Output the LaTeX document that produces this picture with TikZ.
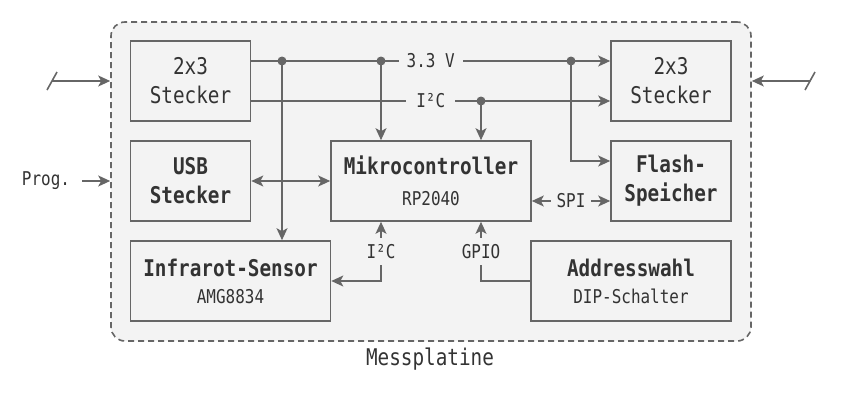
\documentclass[tikz,border=0pt]{standalone}
\usepackage{fontspec}
\setmainfont{DejaVu Sans Mono}[FakeStretch=0.84]
\usetikzlibrary{arrows.meta}
\definecolor{lc}{HTML}{666666}
\definecolor{bg}{HTML}{F3F3F3}
\definecolor{tc}{HTML}{333333}
\newcommand\sublabel[1]{{\fontsize{19}{19}\selectfont\mdseries #1}}
\begin{document}
\begin{tikzpicture}[x=1pt,y=-1pt,
  box/.style={draw=lc, fill=bg, line width=1.6pt, inner sep=0pt, align=center, text=tc,
    font=\fontsize{23}{29}\selectfont, minimum height=80pt},
  hbox/.style={box, font=\fontsize{23}{27}\selectfont\bfseries},
  conn/.style={draw=lc, line width=1.6pt, -{Stealth[length=12pt,width=11pt,inset=3pt]}},
  conn2/.style={draw=lc, line width=1.6pt, {Stealth[length=12pt,width=11pt,inset=3pt]}-{Stealth[length=12pt,width=11pt,inset=3pt]}},
  lbl/.style={fill=bg, text=tc, font=\fontsize{19}{19}\selectfont, inner sep=4pt},
  plain/.style={text=tc, font=\fontsize{19}{19}\selectfont, inner sep=0pt},
  dot/.style={circle, fill=lc, inner sep=0pt, minimum size=9pt},
  wire/.style={draw=lc, line width=1.6pt}]
\useasboundingbox (0,0) rectangle (844,402);
\node[draw=lc, fill=bg, dash pattern=on 6pt off 4pt, rounded corners=14pt, line width=1.6pt,
  minimum width=640pt, minimum height=319pt, inner sep=0pt] (frame) at (431,181.5) {};
\node[text=tc, font=\fontsize{23}{23}\selectfont] (title) at (430,359) {Messplatine};

\node[box, minimum width=120pt] (L23) at (190.5,81) {2x3\\Stecker};
\node[hbox, font=\fontsize{23}{29}\selectfont\bfseries, minimum width=120pt] (USB) at (190.5,181) {USB\\Stecker};
\node[hbox, minimum width=200pt] (IR) at (230.5,281) {Infrarot-Sensor\\\sublabel{AMG8834}};
\node[hbox, font=\fontsize{23}{31}\selectfont\bfseries, minimum width=200pt] (MCU) at (431,181) {Mikrocontroller\\\sublabel{RP2040}};
\node[box, minimum width=120pt] (R23) at (671,81) {2x3\\Stecker};
\node[hbox, font=\fontsize{23}{29}\selectfont\bfseries, minimum width=120pt] (FL) at (671,181) {Flash-\\Speicher};
\node[hbox, minimum width=200pt] (AD) at (631,281) {Addresswahl\\\sublabel{DIP-Schalter}};

\coordinate (d1) at (282,61);
\coordinate (d2) at (381,61);
\coordinate (d3) at (571,61);
\coordinate (d4) at (481,101);

\draw[conn] ([yshift=20pt]L23.east) -- node[lbl, inner xsep=8pt]{3.3 V} ([yshift=20pt]R23.west);
\draw[conn] ([yshift=-20pt]L23.east) -- node[lbl, inner xsep=10pt]{I²C} ([yshift=-20pt]R23.west);
\draw[conn] (d1) -- (d1 |- IR.north);
\draw[conn] (d2) -- (d2 |- MCU.north);
\draw[conn] (d4) -- (d4 |- MCU.north);
\draw[conn] (d3) |- ([yshift=20pt]FL.west);
\draw[conn2] (USB.east) -- (MCU.west);
\draw[conn2] ([yshift=-20pt]MCU.east) -- node[lbl, inner xsep=6pt]{SPI} ([yshift=-20pt]FL.west);
\draw[conn2] (IR.east) -| node[lbl, pos=0.75, inner ysep=6pt]{I²C} ([xshift=-50pt]MCU.south);
\draw[conn] (AD.west) -| node[lbl, pos=0.75, inner ysep=6pt]{GPIO} ([xshift=50pt]MCU.south);

\node[dot] (n1) at (d1) {};
\node[dot] (n2) at (d2) {};
\node[dot] (n3) at (d3) {};
\node[dot] (n4) at (d4) {};

\coordinate (inL) at (52,81);
\draw[conn] (inL) -- (inL -| frame.west);
\draw[wire] ([shift={(-5,9)}]inL) -- ([shift={(5,-9)}]inL);
\node[plain] (prog) at (46,181) {Prog.};
\draw[conn] ([xshift=12pt]prog.east) -- (prog -| frame.west);
\coordinate (inR) at (810,81);
\draw[conn] (inR) -- (inR -| frame.east);
\draw[wire] ([shift={(-5,9)}]inR) -- ([shift={(5,-9)}]inR);
\end{tikzpicture}
\end{document}
